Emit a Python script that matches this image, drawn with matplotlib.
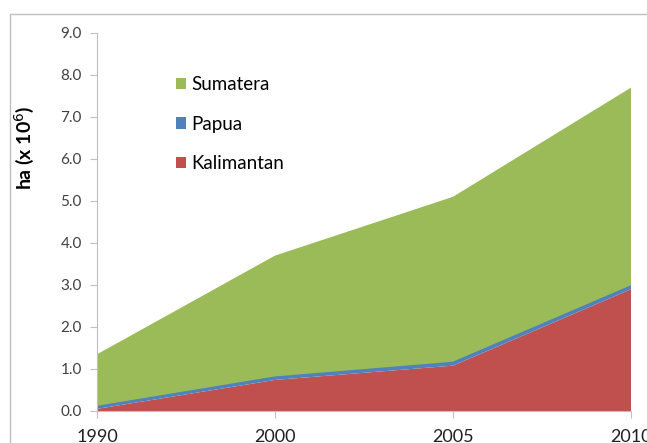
import numpy as np
import matplotlib
matplotlib.use("Agg")
import matplotlib.pyplot as plt
from matplotlib.patches import Rectangle, Patch

# data (ha x 10^6)
years = ["1990", "2000", "2005", "2010"]
kalimantan = [0.05, 0.74, 1.08, 2.90]
papua = [0.05, 0.06, 0.07, 0.07]
sumatera = [1.25, 2.90, 3.95, 4.73]
series_names = ["Kalimantan", "Papua", "Sumatera"]
colors = ["#C0504D", "#4F81BD", "#9BBB59"]

plt.rcParams["font.family"] = ["Lato", "DejaVu Sans"]

fig = plt.figure(figsize=(6.47, 4.43), dpi=100)
ax = fig.add_axes([97 / 647, 1 - 411 / 443, (631 - 97) / 647, (411 - 33) / 443])

# outer chart frame (cut off on the right/bottom like the original)
fig.patches.append(Rectangle((10 / 647, -0.1), 1.2, 1 - 14 / 443 + 0.1,
                             transform=fig.transFigure, fill=False,
                             edgecolor="#BFBFBF", linewidth=1.0))

x = np.arange(len(years))
ax.stackplot(x, kalimantan, papua, sumatera, colors=colors,
             labels=series_names, linewidth=0)
# thin blue line on top of Kalimantan (Papua layer)
top_kp = np.array(kalimantan) + np.array(papua)
ax.plot(x, top_kp, color=colors[1], linewidth=1.4)

ax.set_xlim(0, len(years) - 1)
ax.set_ylim(0, 9)
ax.set_yticks(np.arange(0, 9.1, 1.0))
ax.set_yticklabels([f"{v:.1f}" for v in np.arange(0, 9.1, 1.0)], fontsize=11, color="#404040")
ax.set_xticks(x)
ax.set_xticklabels(years, fontsize=13, color="#202020")
ax.tick_params(axis="y", length=5, color="#BFBFBF", pad=6)
ax.tick_params(axis="x", length=5, color="#BFBFBF", pad=8)

for s in ["top", "right"]:
    ax.spines[s].set_visible(False)
ax.spines["left"].set_color("#BFBFBF")
ax.spines["bottom"].set_color("#BFBFBF")

ax.set_ylabel("ha (x 10$^6$)", fontsize=14, fontweight="bold")
ax.yaxis.set_label_coords(-0.114, 0.696)

handles = [Patch(facecolor=colors[2], edgecolor="none"),
           Patch(facecolor=colors[1], edgecolor="none"),
           Patch(facecolor=colors[0], edgecolor="none")]
ax.legend(handles, ["Sumatera", "Papua", "Kalimantan"], loc="upper left",
          bbox_to_anchor=(0.134, 0.905), frameon=False, fontsize=13.5,
          handlelength=0.55, handleheight=0.55, handletextpad=0.25,
          labelspacing=1.19, borderaxespad=0)

fig.savefig("out.png", dpi=100)
